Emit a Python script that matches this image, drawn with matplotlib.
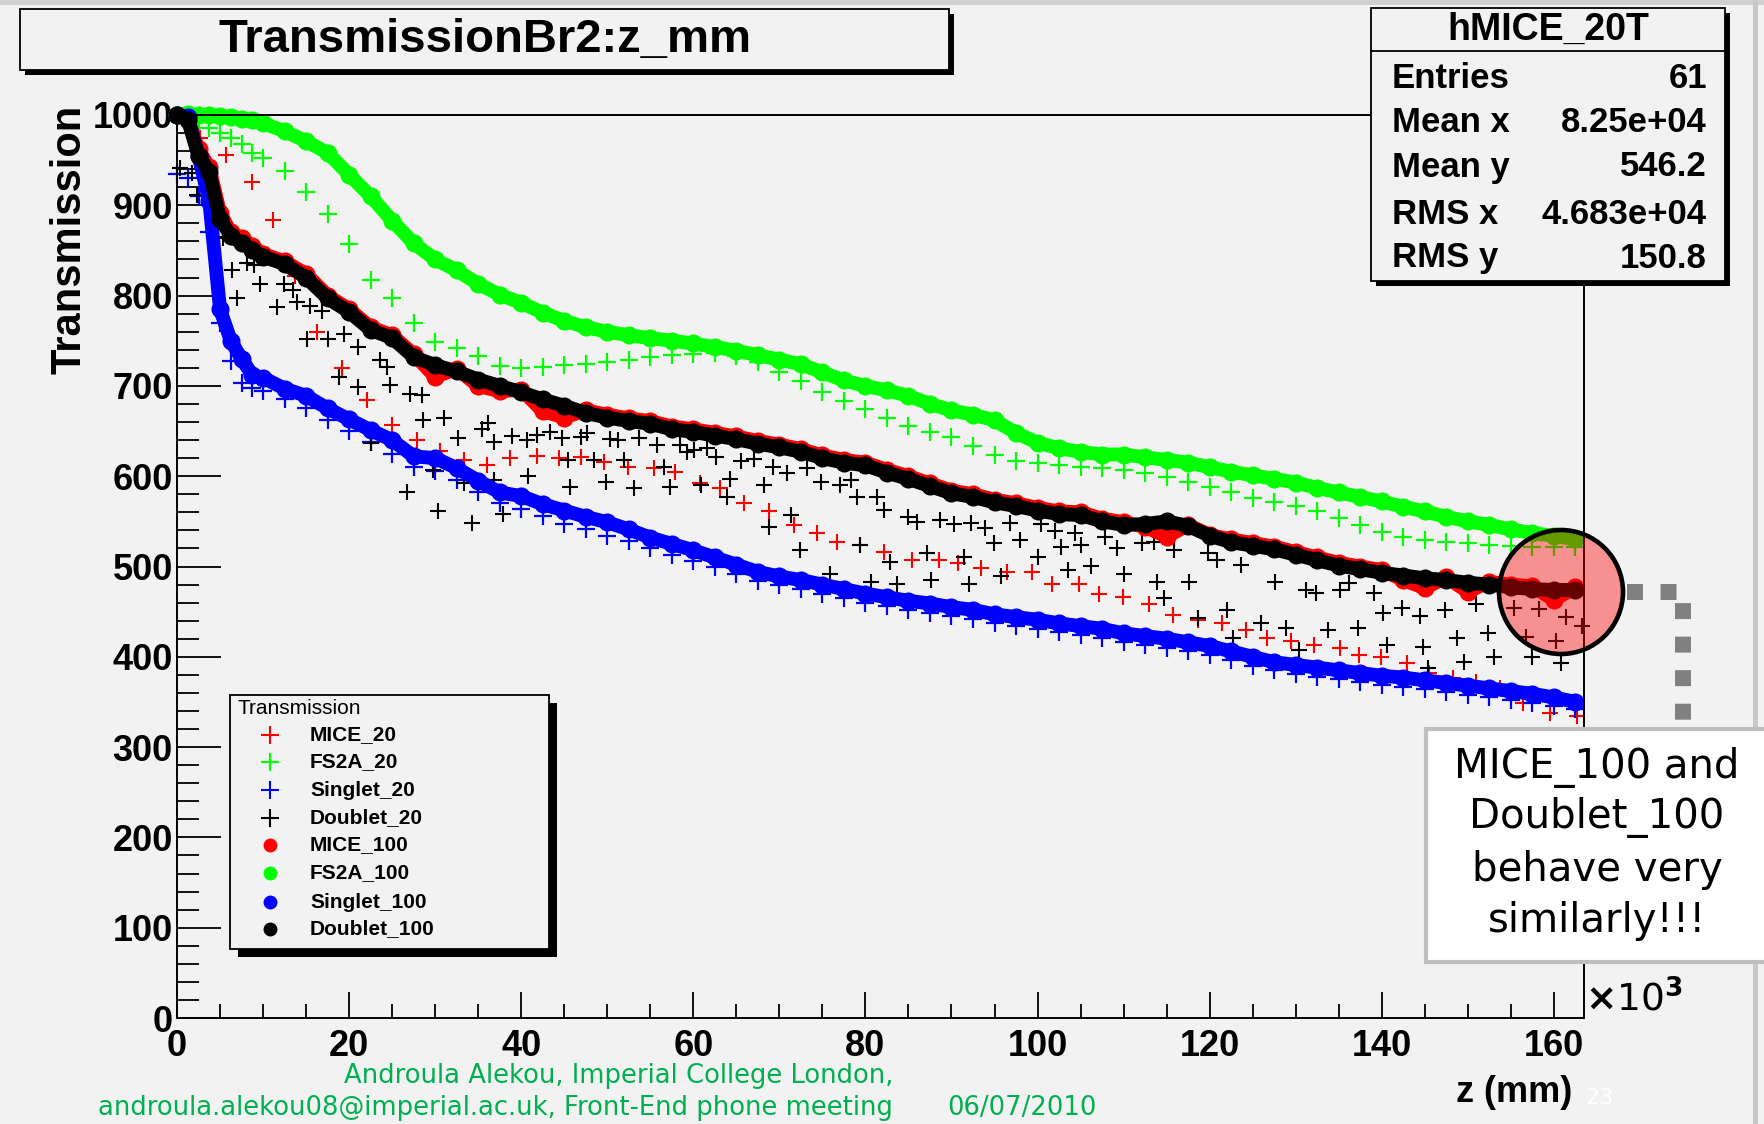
import numpy as np
import matplotlib
matplotlib.use('Agg')
import matplotlib.pyplot as plt
from matplotlib.patches import Rectangle, Ellipse
from matplotlib.lines import Line2D
from matplotlib.ticker import MultipleLocator

W, H = 1765, 1124
BG = '#f2f2f2'

# z in units of 10^3 mm
Z_DENSE = [0, 1.25, 2.5, 3.75, 5, 6.25, 7.5, 8.75] + list(np.arange(10, 163, 2.5))

FS2A_100 = [1000, 1001, 1000, 1000, 999, 998, 996, 994,
            991, 982, 971, 958, 934, 910, 883, 858, 840, 828,
            813, 801, 792, 781, 772, 765, 760, 756, 753, 750,
            747, 743, 739, 734, 729, 724, 715, 706, 700, 695,
            689, 680, 673, 668, 662, 648, 637, 631, 627, 624,
            624, 621, 618, 615, 610, 605, 601, 597, 593, 587,
            582, 577, 572, 566, 561, 555, 550, 546, 541, 537,
            534, 530]
MICE_100 = [1000, 997, 962, 942, 892, 870, 864, 855,
            846, 838, 824, 800, 785, 765, 756, 735, 710, 719,
            700, 694, 696, 672, 665, 673, 668, 664, 661, 655,
            652, 648, 644, 639, 635, 630, 623, 618, 615, 607,
            600, 592, 584, 580, 574, 570, 565, 561, 560, 553,
            549, 544, 533, 546, 535, 530, 526, 522, 516, 510,
            504, 500, 496, 485, 476, 488, 472, 483, 480, 478,
            463, 477]
DOUBLET_100 = [1000, 995, 955, 937, 885, 866, 858, 851,
               843, 835, 820, 797, 782, 762, 753, 732, 723, 716,
               707, 700, 693, 685, 678, 670, 665, 661, 658, 652,
               649, 645, 641, 636, 632, 627, 620, 615, 612, 604,
               597, 589, 581, 577, 571, 567, 562, 558, 557, 550,
               546, 547, 550, 545, 534, 527, 523, 519, 513, 507,
               501, 497, 493, 490, 487, 485, 482, 480, 477, 475,
               474, 474]
SINGLET_100 = [1000, 998, 955, 905, 785, 750, 730, 712,
               709, 697, 689, 675, 663, 651, 640, 622, 620, 609,
               595, 582, 578, 569, 562, 555, 549, 541, 532, 525,
               518, 510, 502, 494, 489, 485, 480, 475, 470, 466,
               462, 459, 455, 452, 447, 444, 441, 437, 434, 431,
               426, 423, 420, 416, 412, 406, 400, 394, 391, 388,
               385, 382, 379, 377, 374, 371, 368, 365, 362, 359,
               355, 350]
SINGLET_20 = [935, 930, 910, 870, 770, 728, 703, 698,
              694, 685, 676, 662, 650, 638, 625, 610, 606, 596,
              582, 570, 564, 556, 547, 541, 534, 528, 520, 513,
              506, 499, 492, 484, 479, 475, 470, 465, 460, 456,
              452, 449, 445, 442, 437, 434, 431, 427, 424, 421,
              416, 413, 410, 406, 402, 396, 390, 385, 381, 378,
              375, 372, 369, 367, 364, 361, 358, 355, 352, 349,
              346, 342]
FS2A_20 = [1000, 998, 992, 986, 980, 975, 968, 958,
           952, 938, 915, 890, 857, 817, 797, 770, 749, 742,
           733, 722, 720, 721, 723, 724, 726, 729, 732, 734,
           735, 736, 733, 727, 715, 705, 693, 683, 674, 665,
           656, 649, 643, 633, 623, 617, 615, 612, 610, 609,
           607, 604, 599, 594, 588, 582, 576, 571, 567, 561,
           554, 546, 538, 533, 529, 527, 526, 524, 523, 522,
           522, 522]

MICE_20_Z = [0.0, 2.7, 5.7, 8.7, 11.1, 13.7, 16.3, 19.2, 22.1, 25.0,
             27.9, 30.6, 33.3, 36.0, 38.7, 41.8, 44.4, 46.9, 49.6, 52.4,
             55.4, 57.9, 60.8, 63.1, 65.9, 68.8, 71.7, 74.4, 76.7, 79.4,
             82.1, 85.4, 88.5, 90.8, 93.4, 96.5, 99.4, 101.7, 104.8, 107.1,
             109.9, 113.0, 115.7, 118.6, 121.4, 124.2, 126.7, 129.4, 132.1, 135.1,
             137.4, 139.9, 142.9, 145.5, 148.3, 151.0, 153.7, 156.4, 159.6, 162.7]
MICE_20_T = [1000, 975, 956, 926, 884, 822, 760, 720, 684, 657,
             640, 628, 618, 612, 620, 622, 620, 621, 616, 610,
             609, 605, 592, 587, 570, 561, 546, 537, 527, 524,
             516, 507, 507, 504, 498, 494, 494, 481, 481, 470,
             466, 459, 446, 441, 437, 430, 421, 418, 413, 410,
             402, 400, 393, 382, 377, 372, 366, 349, 338, 334]

DOUBLET_20_Z = [0.4, 1.8, 2.3, 4.5, 5.4, 6.4, 7.0, 8.1, 8.9, 9.6,
                11.6, 12.4, 13.5, 14.0, 15.1, 15.5, 16.8, 17.6, 18.8, 19.4,
                21.0, 21.0, 22.5, 23.6, 24.4, 24.8, 26.7, 27.1, 28.5, 28.6,
                29.8, 30.3, 31.0, 32.6, 33.3, 34.3, 35.5, 36.1, 36.8, 36.8,
                37.9, 38.9, 40.7, 40.8, 41.8, 43.4, 44.7, 45.4, 45.7, 46.9,
                47.6, 48.4, 49.9, 50.3, 51.3, 51.9, 53.1, 53.7, 55.8, 56.6,
                57.3, 58.5, 59.3, 60.1, 60.9, 61.6, 62.6, 63.9, 64.3, 65.5,
                67.0, 68.2, 68.8, 69.3, 70.9, 71.3, 72.4, 73.2, 74.8, 75.9,
                77.1, 78.3, 79.0, 79.4, 80.6, 81.4, 82.1, 82.9, 83.7, 84.9,
                86.0, 87.2, 87.6, 88.7, 90.3, 91.4, 92.0, 92.3, 93.9, 94.9,
                95.7, 96.8, 98.0, 100.0, 100.4, 102.0, 102.7, 103.5, 104.3, 105.0,
                106.2, 107.8, 109.2, 110.1, 112.1, 113.5, 113.9, 114.7, 115.9, 117.6,
                118.6, 119.8, 120.8, 122.0, 122.7, 123.6, 126.0, 127.6, 128.9, 130.4,
                131.2, 132.3, 133.8, 135.2, 136.2, 137.2, 139.1, 140.1, 140.6, 142.4,
                144.4, 144.8, 145.4, 147.3, 148.7, 149.6, 151.0, 152.4, 153.0, 155.4,
                156.8, 157.4, 158.3, 160.2, 160.8, 161.4, 163.3]
DOUBLET_20_T = [941, 936, 911, 865, 864, 828, 797, 836, 834, 813,
                787, 813, 806, 793, 752, 788, 783, 752, 710, 757,
                743, 699, 637, 729, 721, 701, 583, 691, 690, 662,
                607, 561, 665, 642, 592, 548, 652, 659, 638, 596,
                558, 644, 640, 600, 646, 649, 642, 618, 588, 643,
                648, 618, 594, 641, 640, 618, 587, 642, 635, 610,
                588, 635, 627, 629, 590, 631, 621, 577, 597, 617,
                619, 590, 544, 610, 603, 557, 518, 609, 594, 492,
                590, 596, 577, 524, 483, 577, 563, 505, 481, 555,
                549, 515, 485, 551, 547, 511, 481, 548, 543, 526,
                490, 548, 529, 510, 547, 539, 522, 496, 537, 524,
                501, 533, 520, 492, 526, 527, 483, 465, 518, 483,
                443, 515, 507, 452, 421, 502, 437, 483, 432, 407,
                474, 471, 430, 474, 482, 432, 471, 448, 413, 454,
                445, 411, 388, 452, 421, 394, 458, 426, 400, 454,
                422, 400, 453, 418, 393, 444, 434]

LABELS = ['MICE_20', 'FS2A_20', 'Singlet_20', 'Doublet_20',
          'MICE_100', 'FS2A_100', 'Singlet_100', 'Doublet_100']
COLORS = ['#ff0000', '#00ff00', '#0000ff', '#000000',
          '#ff0000', '#00ff00', '#0000ff', '#000000']

STAT_NAMES = ['Entries', 'Mean x', 'Mean y', 'RMS x', 'RMS y']
STAT_VALUES = ['61', '8.25e+04', '546.2', '4.683e+04', '150.8']

plt.rcParams['font.family'] = ['Liberation Sans', 'DejaVu Sans']
plt.rcParams['font.weight'] = 'bold'
plt.rcParams['mathtext.fontset'] = 'dejavusans'
SLIDE_FONT = ['DejaVu Sans']


def fx(px):
    return px / W


def fy(py):
    return 1 - py / H


def box(x0, y0, x1, y1, shadow=6, fc=BG, z=5):
    if shadow:
        fig.add_artist(Rectangle((fx(x0 + shadow), fy(y1 + shadow)), (x1 - x0) / W, (y1 - y0) / H,
                                 transform=fig.transFigure, fc='black', ec='black', lw=0, zorder=z))
    fig.add_artist(Rectangle((fx(x0), fy(y1)), (x1 - x0) / W, (y1 - y0) / H,
                             transform=fig.transFigure, fc=fc, ec='black', lw=1.3, zorder=z))


fig = plt.figure(figsize=(W / 100, H / 100), dpi=100, facecolor=BG)
ax = fig.add_axes([fx(177), fy(1018), (1584 - 177) / W, (1018 - 115) / H])
ax.set_facecolor(BG)

# _20 series: crosses
plus_kw = dict(ls='none', marker='+', ms=11, mew=1.5, clip_on=False)
dense_plus_kw = dict(ls='none', marker='+', ms=12.5, mew=1.6, clip_on=False)
ax.plot(MICE_20_Z, MICE_20_T, color=COLORS[0], **plus_kw)
ax.plot(Z_DENSE, FS2A_20, color=COLORS[1], **dense_plus_kw)
ax.plot(Z_DENSE, SINGLET_20, color=COLORS[2], **dense_plus_kw)
ax.plot(DOUBLET_20_Z, DOUBLET_20_T, color=COLORS[3], **plus_kw)

# _100 series: dense filled circles
dot_kw = dict(marker='o', ms=13, lw=10, mew=0, clip_on=False, solid_capstyle='round')
for ys, c in [(MICE_100, COLORS[4]), (FS2A_100, COLORS[5]),
              (SINGLET_100, COLORS[6]), (DOUBLET_100, COLORS[7])]:
    ax.plot(Z_DENSE, ys, color=c, **dot_kw)

ax.set_xlim(0, 163.5)
ax.set_ylim(0, 1000)
ax.set_xticks(np.arange(0, 161, 20))
ax.set_yticks(np.arange(0, 1001, 100))
ax.xaxis.set_minor_locator(MultipleLocator(5))
ax.yaxis.set_minor_locator(MultipleLocator(20))
ax.tick_params(which='both', direction='in', width=1.3, labelsize=26,
               top=False, right=False)
ax.tick_params(axis='y', which='major', length=32, pad=3)
ax.tick_params(axis='y', which='minor', length=16)
ax.tick_params(axis='x', which='major', length=19, pad=8)
ax.tick_params(axis='x', which='minor', length=10)
for s in ax.spines.values():
    s.set_linewidth(1.4)

# axis titles
fig.text(fx(70), fy(105), 'Transmission', rotation=90, ha='center', va='top', fontsize=30)
fig.text(fx(1572), fy(1092), 'z (mm)', ha='right', va='center', fontsize=26)
fig.text(fx(1585), fy(1000), r'$\times$10$^{3}$', ha='left', va='center', fontsize=27,
         family=['DejaVu Sans'], fontweight='normal')

# title box
box(20, 9, 949, 70, shadow=5)
fig.text(fx(485), fy(40), 'TransmissionBr2:z_mm', ha='center', va='center', fontsize=34, zorder=6)

# stats box
box(1371, 8, 1725, 281, shadow=5)
fig.add_artist(Line2D([fx(1371), fx(1725)], [fy(51), fy(51)], transform=fig.transFigure,
                      color='black', lw=1.3, zorder=6))
fig.text(fx(1548), fy(30), 'hMICE_20T', ha='center', va='center', fontsize=27, zorder=6)
for i, (n, v) in enumerate(zip(STAT_NAMES, STAT_VALUES)):
    yy = [78, 123, 167, 214, 258][i]
    fig.text(fx(1392), fy(yy), n, ha='left', va='center', fontsize=25, zorder=6)
    fig.text(fx(1707), fy(yy), v, ha='right', va='center', fontsize=25, zorder=6)

# legend
box(230, 695, 549, 949, shadow=8)
fig.text(fx(238), fy(709), 'Transmission', ha='left', va='center', fontsize=15,
         fontweight='normal', zorder=6)
rows = [735, 762, 790, 818, 845, 873, 902, 929]
for i, (lab, c) in enumerate(zip(LABELS, COLORS)):
    if i < 4:
        mk = dict(marker='+', ms=13, mew=1.5)
    else:
        mk = dict(marker='o', ms=10, mew=0)
    fig.add_artist(Line2D([fx(270)], [fy(rows[i])], transform=fig.transFigure,
                          color=c, ls='none', zorder=6, **mk))
    fig.text(fx(310), fy(rows[i]), lab, ha='left', va='center', fontsize=15, zorder=6)

# highlight circle and callout
fig.add_artist(Line2D([fx(1627), fx(1683), fx(1683)], [fy(592), fy(592), fy(729)],
                      transform=fig.transFigure, color='#808080', lw=11.5,
                      dashes=(1, 1.1), dash_capstyle='butt', zorder=4))
fig.add_artist(Ellipse((fx(1561), fy(592)), 124 / W, 124 / H, transform=fig.transFigure,
                       fc=(1, 0, 0, 0.4), ec='black', lw=3.3, zorder=5))
fig.add_artist(Rectangle((fx(1426), fy(962)), 360 / W, (962 - 729) / H, transform=fig.transFigure,
                         fc='white', ec='#bfbfbf', lw=3, zorder=6))
for txt, yy in zip(['MICE_100 and', 'Doublet_100', 'behave very', 'similarly!!!'],
                   [768, 818, 870, 921]):
    fig.text(fx(1597), fy(yy), txt, ha='center', va='center', fontsize=29,
             family=SLIDE_FONT, fontweight='normal', zorder=7)

# slide footer
GREEN = '#00b050'
fig.text(fx(893), fy(1076), 'Androula Alekou, Imperial College London,', ha='right', va='center',
         fontsize=18.6, color=GREEN, family=SLIDE_FONT, fontweight='normal')
fig.text(fx(893), fy(1108), 'androula.alekou08@imperial.ac.uk, Front-End phone meeting',
         ha='right', va='center', fontsize=18.6, color=GREEN, family=SLIDE_FONT, fontweight='normal')
fig.text(fx(947), fy(1108), '06/07/2010', ha='left', va='center', fontsize=18.6,
         color=GREEN, family=SLIDE_FONT, fontweight='normal')
fig.text(fx(1600), fy(1098), '23', ha='center', va='center', fontsize=16,
         color='white', family=SLIDE_FONT, fontweight='normal')

# slide edges
fig.add_artist(Rectangle((0, fy(5)), 1, 5 / H, transform=fig.transFigure,
                         fc='#d0d0d0', lw=0, zorder=0))
fig.add_artist(Rectangle((fx(1753), 0), 5 / W, 1, transform=fig.transFigure,
                         fc='#c8c8c8', lw=0, zorder=0))

fig.savefig('out.png', dpi=100, facecolor=BG)
